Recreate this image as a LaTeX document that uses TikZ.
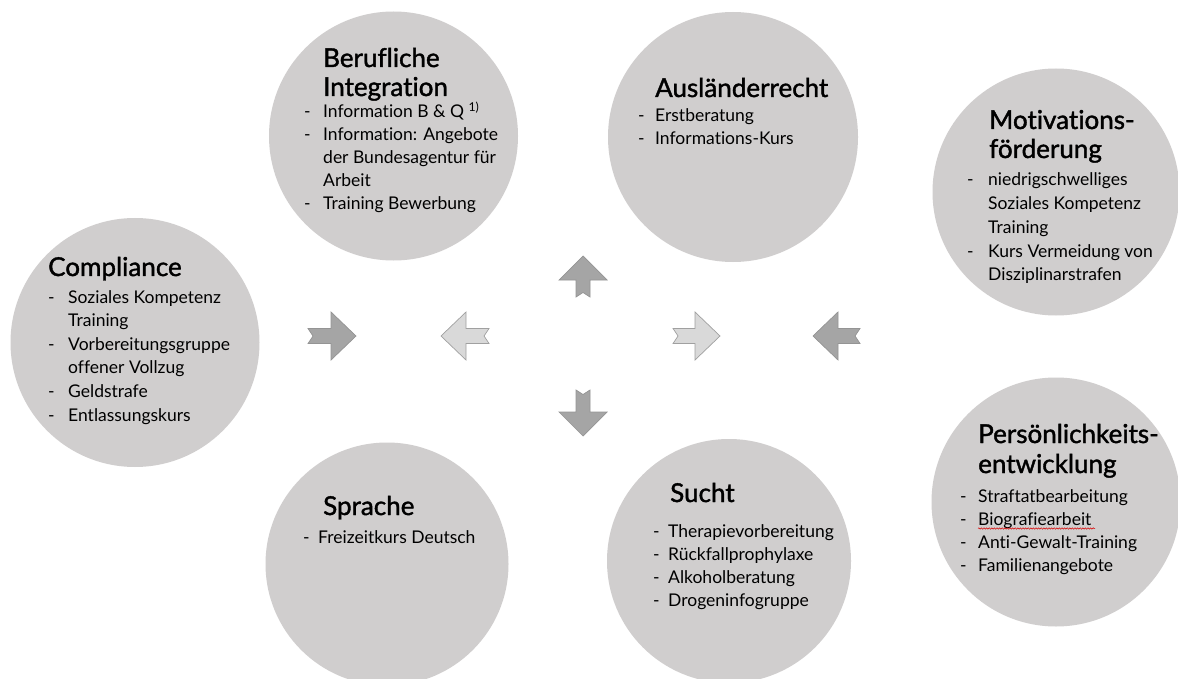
\documentclass[tikz,border=0pt]{standalone}
\usepackage{fontspec}
\setmainfont{Lato}[Ligatures={NoCommon}]
\newfontfamily\headfont{Lato}[FakeBold=1.5,Ligatures={NoCommon}]
\usetikzlibrary{decorations.pathmorphing}
\definecolor{circfill}{RGB}{208,206,206}
\definecolor{darkarr}{RGB}{165,165,165}
\definecolor{darkarrline}{RGB}{148,148,148}
\definecolor{lightarr}{RGB}{217,217,217}
\definecolor{lightarrline}{RGB}{160,160,160}
\newcommand\myBul[2]{\hbox{\hbox to #1{-\hfil}#2}}
\newcommand\myCont[2]{\hbox{\hskip #1\relax #2}}
\newcommand\myList[2]{\vtop{\baselineskip=#1\relax #2}}
\newcommand\myHArrow[4]{%
  \pgfmathsetmacro\myd{sign(#3-#2)}%
  \pgfmathsetmacro\myxb{#3-\myd*25}%
  \pgfmathsetmacro\myxn{#2+\myd*5}%
  \draw[#1] ({#2},{#4-7.5}) -- (\myxb,{#4-7.5}) -- (\myxb,{#4-24}) -- ({#3},{#4}) -- (\myxb,{#4+24}) -- (\myxb,{#4+7.5}) -- ({#2},{#4+7.5}) -- (\myxn,{#4}) -- cycle;}
\newcommand\myVArrow[4]{%
  \pgfmathsetmacro\myd{sign(#4-#3)}%
  \pgfmathsetmacro\myyb{#4-\myd*24}%
  \pgfmathsetmacro\myyn{#3+\myd*4.5}%
  \draw[#1] ({#2-7},{#3}) -- ({#2-7},\myyb) -- ({#2-24},\myyb) -- ({#2},{#4}) -- ({#2+24},\myyb) -- ({#2+7},\myyb) -- ({#2+7},{#3}) -- ({#2},\myyn) -- cycle;}
\begin{document}
\begin{tikzpicture}[x=1pt,y=-1pt,
  blob/.style={circle, fill=circfill, draw=none, inner sep=0pt},
  darkarrow/.style={fill=darkarr, draw=darkarrline, line width=0.7pt, line join=miter},
  lightarrow/.style={fill=lightarr, draw=lightarrline, line width=0.7pt, line join=miter},
  headtxt/.style={font=\headfont\fontsize{26}{30}\selectfont, inner sep=0pt, anchor=base west},
  bodytxt/.style={font=\fontsize{17.5}{23.5}\selectfont, inner sep=0pt, anchor=base west}]
\useasboundingbox (0,0) rectangle (1178,679);
\fill[white] (0,0) rectangle (1178,679);
% circles
\node[blob, minimum size=249pt] (cComp) at (135,342.5) {};
\node[blob, minimum size=249pt] (cBer) at (393.5,136) {};
\node[blob, minimum size=250pt] (cAus) at (733,137) {};
\node[blob, minimum size=247pt] (cMot) at (1056,192) {};
\node[blob, minimum size=249pt] (cPer) at (1056,502) {};
\node[blob, minimum size=243pt] (cSpr) at (387,564) {};
\node[blob, minimum size=244pt] (cSuc) at (729,561) {};
% arrows
\myHArrow{darkarrow}{308}{356}{336}
\myHArrow{lightarrow}{489}{441}{336}
\myHArrow{lightarrow}{673}{720}{336}
\myHArrow{darkarrow}{860}{813}{336}
\myVArrow{darkarrow}{583}{297}{256}
\myVArrow{darkarrow}{583}{390}{436}
% Compliance
\node[headtxt] (hComp) at (48,276) {Compliance};
\node[bodytxt] (lComp) at (48,303) {\myList{23.6pt}{%
  \myBul{20pt}{Soziales Kompetenz}\myCont{20pt}{Training}%
  \myBul{20pt}{Vorbereitungsgruppe}\myCont{20pt}{offener Vollzug}%
  \myBul{20pt}{Geldstrafe}\myBul{20pt}{Entlassungskurs}}};
% Berufliche Integration
\node[headtxt] (hBer) at (323,67) {\myList{29pt}{\hbox{Berufliche}\hbox{Integration}}};
\node[bodytxt] (lBer) at (304,118) {\myList{23pt}{%
  \myBul{19pt}{Information B \& Q \textsuperscript{1)}}%
  \myBul{19pt}{Information: Angebote}\myCont{19pt}{der Bundesagentur für}\myCont{19pt}{Arbeit}%
  \myBul{19pt}{Training Bewerbung}}};
% Auslaenderrecht
\node[headtxt] (hAus) at (655,97) {Ausländerrecht};
\node[bodytxt] (lAus) at (638,122) {\myList{23pt}{%
  \myBul{17pt}{Erstberatung}\myBul{17pt}{Informations-Kurs}}};
% Motivationsfoerderung
\node[headtxt] (hMot) at (989,129) {\myList{29pt}{\hbox{Motivations-}\hbox{förderung}}};
\node[bodytxt] (lMot) at (967,186) {\myList{23.75pt}{%
  \myBul{21pt}{niedrigschwelliges}\myCont{21pt}{Soziales Kompetenz}\myCont{21pt}{Training}%
  \myBul{21pt}{Kurs Vermeidung von}\myCont{21pt}{Disziplinarstrafen}}};
% Persoenlichkeitsentwicklung
\node[headtxt] (hPer) at (978,443) {\myList{30pt}{\hbox{Persönlichkeits-}\hbox{entwicklung}}};
\node[bodytxt] (lPer) at (960,502) {\myList{23.3pt}{%
  \myBul{18pt}{Straftatbearbeitung}\myBul{18pt}{Biografiearbeit}%
  \myBul{18pt}{Anti-Gewalt-Training}\myBul{18pt}{Familienangebote}}};
\draw[red!85!black, line width=0.5pt, decorate, decoration={snake, amplitude=0.7pt, segment length=2.6pt}] (978,528.5) -- (1095,528.5);
% Sprache
\node[headtxt] (hSpr) at (323,515) {Sprache};
\node[bodytxt] (lSpr) at (303,543) {\myList{23pt}{\myBul{15pt}{Freizeitkurs Deutsch}}};
% Sucht
\node[headtxt] (hSuc) at (670,502) {Sucht};
\node[bodytxt] (lSuc) at (653,537) {\myList{23.3pt}{%
  \myBul{15pt}{Therapievorbereitung}\myBul{15pt}{Rückfallprophylaxe}%
  \myBul{15pt}{Alkoholberatung}\myBul{15pt}{Drogeninfogruppe}}};
\end{tikzpicture}
\end{document}
